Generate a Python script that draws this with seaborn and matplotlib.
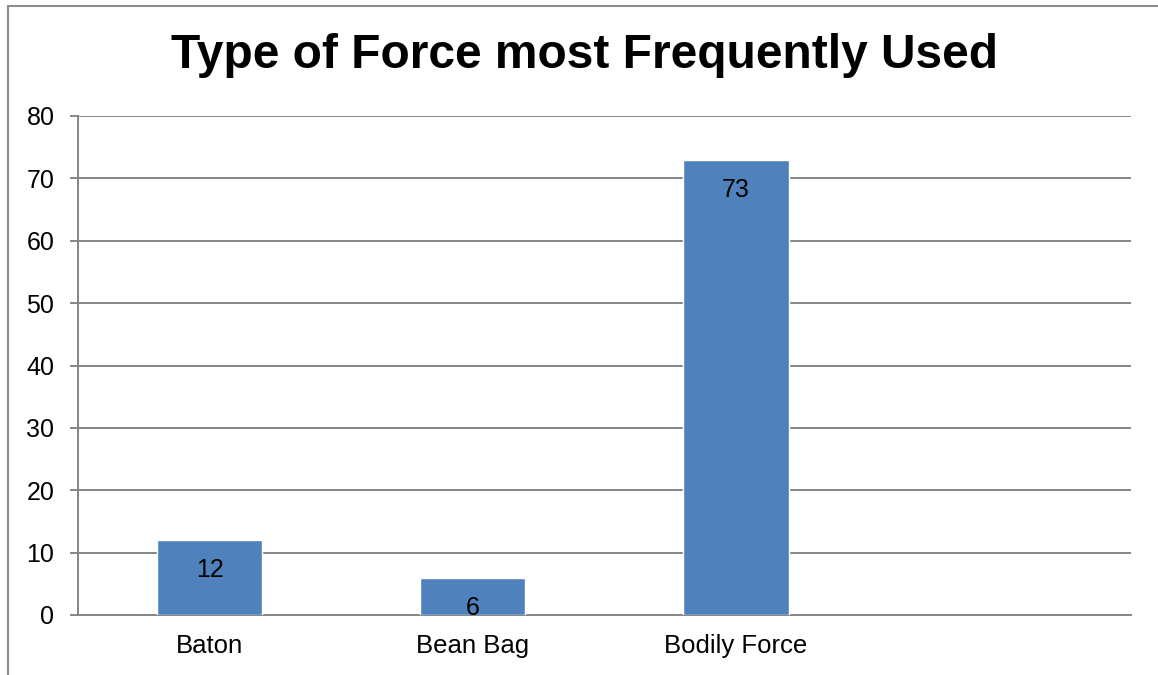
import matplotlib
matplotlib.use("Agg")
import matplotlib.pyplot as plt
from matplotlib.lines import Line2D
import seaborn as sns
import pandas as pd
import numpy as np

categories = ["Baton", "Bean Bag", "Bodily Force"]
values = [12, 6, 73]
n_slots = 4
y_ticks = [0, 10, 20, 30, 40, 50, 60, 70, 80]
title = "Type of Force most Frequently Used"

sns.set_theme(style="white")
plt.rcParams['font.family'] = ['Liberation Sans', 'DejaVu Sans']

W, H = 1158, 675
fig = plt.figure(figsize=(W / 100, H / 100), dpi=100)
ax = fig.add_axes([78 / W, 1 - 615 / H, (1130.7 - 78) / W, (615 - 116) / H])

df = pd.DataFrame({"cat": categories, "val": values})
sns.barplot(data=df, x="cat", y="val", order=categories, color="#4F81BD",
            saturation=1, width=0.4, ax=ax, zorder=3)

grid_c = "#868686"
ax.set_xlim(-0.5, n_slots - 0.5)
ax.set_ylim(0, 80)
ax.set_yticks(y_ticks)
ax.yaxis.grid(True, color=grid_c, linewidth=1.4, zorder=0)
ax.set_axisbelow(True)
ax.set_xlabel("")
ax.set_ylabel("")

for s in ["top", "right"]:
    ax.spines[s].set_visible(False)
for s in ["left", "bottom"]:
    ax.spines[s].set_color(grid_c)
    ax.spines[s].set_linewidth(1.4)

ax.set_xticks(range(len(categories)))
ax.set_xticklabels(categories)
ax.set_xticks(np.arange(-0.5, n_slots, 1.0), minor=True)
ax.tick_params(axis="x", which="major", length=0, pad=14, labelsize=18.5)
ax.tick_params(axis="x", which="minor", length=6, width=1.4, color=grid_c, direction="out")
ax.tick_params(axis="y", which="major", length=6, width=1.4, color=grid_c, direction="out",
               left=True, pad=11, labelsize=18)
for lab in ax.get_yticklabels() + ax.get_xticklabels():
    lab.set_color("black")

for i, v in enumerate(values):
    ax.annotate(str(v), xy=(i, v), xytext=(0, -13), textcoords="offset points",
                ha="center", va="top", fontsize=18, color="black", zorder=4)

fig.text(0.5048, 1 - 55 / H, title, ha="center", va="center",
         fontsize=34.5, fontweight="bold", color="black")

bc = "#8c8c8c"
fig.add_artist(Line2D([8 / W, 8 / W], [0, 1 - 6 / H], color=bc, linewidth=1.5,
                      transform=fig.transFigure))
fig.add_artist(Line2D([8 / W, 1], [1 - 6 / H, 1 - 6 / H], color=bc, linewidth=1.5,
                      transform=fig.transFigure))

fig.savefig("out.png", dpi=100, facecolor="white")
